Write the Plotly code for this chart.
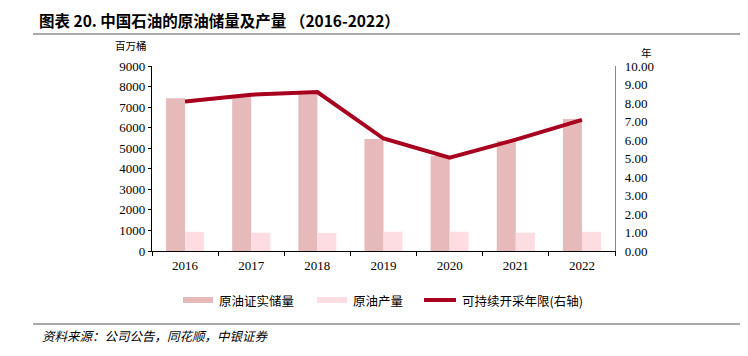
import plotly.graph_objects as go

years = ["2016", "2017", "2018", "2019", "2020", "2021", "2022"]
reserves = [7430, 7520, 7700, 5450, 4620, 5360, 6420]
production = [930, 890, 880, 940, 940, 890, 930]
years_left = [8.08, 8.45, 8.59, 6.08, 5.05, 6.02, 7.09]

C_RES = "#E6BABA"
C_PROD = "#FDDCE2"
C_LINE = "#A8001F"

OFF = 8  # page body margin
W, H = 748 - OFF, 356 - OFF
L, R, T, B = 152, 615, 66, 251  # plot area in page pixels

def px(x):
    return (x - L) / (R - L)

def py(y):
    return (B - y) / (B - T)

SERIF = "Liberation Serif, Times New Roman, serif"
CJK = "Noto Sans CJK SC, sans-serif"

fig = go.Figure()
fig.add_trace(go.Bar(x=years, y=reserves, name="原油证实储量", marker=dict(color=C_RES, line=dict(width=0)), yaxis="y"))
fig.add_trace(go.Bar(x=years, y=production, name="原油产量", marker=dict(color=C_PROD, line=dict(width=0)), yaxis="y"))
fig.add_trace(go.Scatter(x=years, y=years_left, name="可持续开采年限(右轴)", mode="lines",
                         line=dict(color=C_LINE, width=4), yaxis="y2"))

fig.update_layout(
    width=W, height=H,
    margin=dict(l=L - OFF, r=W - (R - OFF), t=T - OFF, b=H - (B - OFF), pad=0),
    paper_bgcolor="white", plot_bgcolor="white",
    showlegend=False,
    barmode="group", bargap=0.425, bargroupgap=0,
    font=dict(family=SERIF, size=13, color="#000"),
    xaxis=dict(type="category", showline=True, linecolor="#000", linewidth=1.3,
               ticks="outside", tickson="boundaries", ticklen=4, tickcolor="#000",
               tickfont=dict(family=SERIF, size=13), showgrid=False, zeroline=False,
               ticklabelstandoff=2),
    yaxis=dict(range=[0, 9000], dtick=1000, showline=True, linecolor="#000", linewidth=1.3,
               ticks="outside", ticklen=3, tickcolor="#000", showgrid=False, zeroline=False,
               tickfont=dict(family=SERIF, size=13), tickformat="d"),
    yaxis2=dict(range=[0, 10], dtick=1, overlaying="y", side="right", showline=True,
                linecolor="#888", linewidth=1.3, ticks="", showgrid=False, zeroline=False,
                tickformat=".2f", tickfont=dict(family=SERIF, size=13), ticklabelstandoff=6),
)

ann = []
ann.append(dict(x=px(37), y=py(20), xref="paper", yref="paper", xanchor="left", yanchor="middle",
                text="<b>图表 20. 中国石油的原油储量及产量 （2016-2022）</b>", showarrow=False,
                font=dict(family=CJK, size=15.5, color="#000")))
ann.append(dict(x=px(131), y=py(45), xref="paper", yref="paper", xanchor="center", yanchor="middle",
                text="百万桶", showarrow=False, font=dict(family=CJK, size=10.5, color="#000")))
ann.append(dict(x=px(646), y=py(52), xref="paper", yref="paper", xanchor="center", yanchor="middle",
                text="年", showarrow=False, font=dict(family=CJK, size=10.5, color="#000")))
ann.append(dict(x=px(40), y=py(335), xref="paper", yref="paper", xanchor="left", yanchor="middle",
                text="<i>资料来源：公司公告，同花顺，中银证券</i>", showarrow=False,
                font=dict(family=CJK, size=12.5, color="#000")))
legend_items = [("原油证实储量", 217), ("原油产量", 351), ("可持续开采年限(右轴)", 460)]
for t, x0 in legend_items:
    ann.append(dict(x=px(x0), y=py(300), xref="paper", yref="paper", xanchor="left", yanchor="middle",
                    text=t, showarrow=False, font=dict(family=CJK, size=12.5, color="#000")))

shapes = [
    dict(type="line", xref="paper", yref="paper", x0=px(33), x1=px(748), y0=py(34), y1=py(34),
         line=dict(color="#555", width=1.2)),
    dict(type="line", xref="paper", yref="paper", x0=px(33), x1=px(748), y0=py(324), y1=py(324),
         line=dict(color="#555", width=1.2)),
    dict(type="rect", xref="paper", yref="paper", x0=px(183), x1=px(213), y0=py(297), y1=py(303),
         fillcolor=C_RES, line=dict(width=0)),
    dict(type="rect", xref="paper", yref="paper", x0=px(317), x1=px(347), y0=py(297), y1=py(303),
         fillcolor=C_PROD, line=dict(width=0)),
    dict(type="line", xref="paper", yref="paper", x0=px(424), x1=px(456), y0=py(300), y1=py(300),
         line=dict(color=C_LINE, width=4)),
]
fig.update_layout(annotations=ann, shapes=shapes)
fig.write_html("out.html")
